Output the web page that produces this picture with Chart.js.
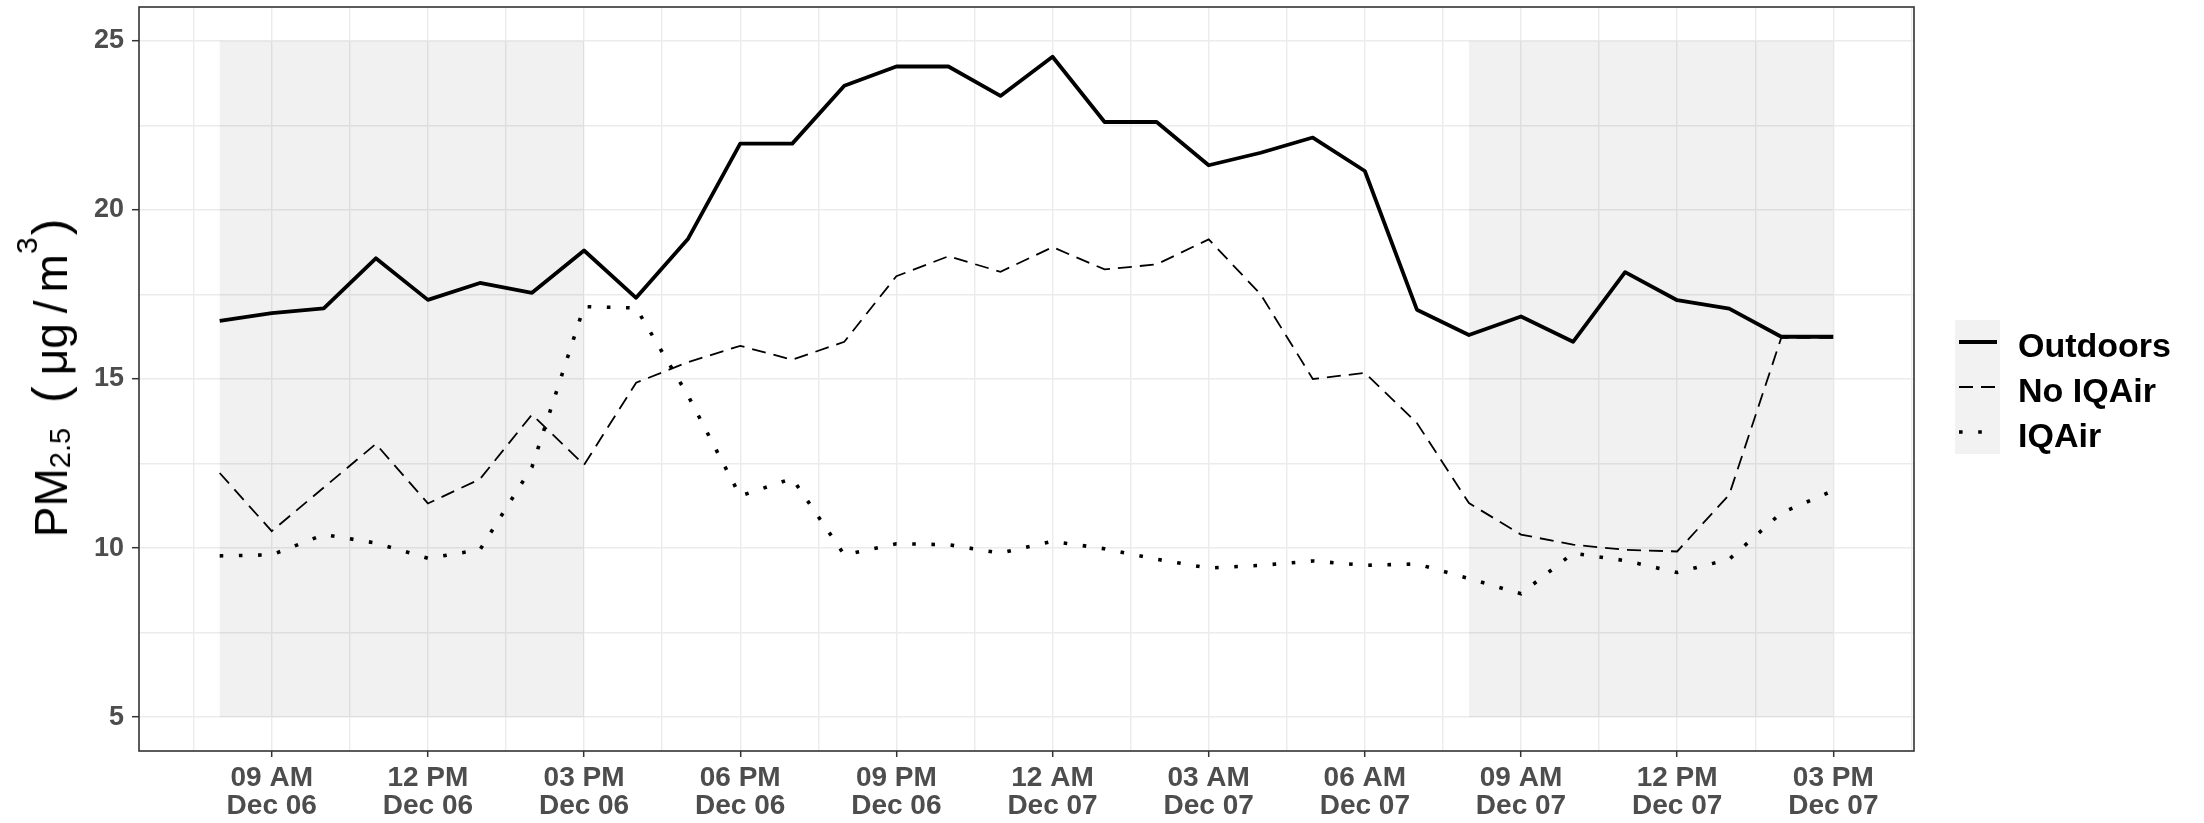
<!DOCTYPE html>
<html>
<head>
<meta charset="utf-8">
<script src="https://cdn.jsdelivr.net/npm/chart.js"></script>
<style>
body { margin: 0; background: #fff; }
#wrap { position: relative; width: 2204px; height: 823px; }
#ytitle {
    position: absolute; left: 51px; top: 378px;
    transform: translate(-50%, -50%) rotate(-90deg);
    font-family: "Liberation Sans", Arial, sans-serif; font-size: 46px;
    line-height: 46px; white-space: nowrap; color: #000;
}
#ytitle span { line-height: 0; position: relative; }
.sub { font-size: 29px; top: 3px; }
.sup { font-size: 30px; top: -30px; }
.par { font-size: 50px; }
</style>
</head>
<body>
<div id="wrap">
  <canvas id="myChart" width="2204" height="823"></canvas>
  <div id="ytitle">PM<span class="sub">2.5</span><span class="par" style="margin-left:25px">(</span><span style="margin-left:11px">μg</span><span style="margin-left:10px;margin-right:8px">/</span>m<span class="sup">3</span><span class="par" style="margin-left:2px">)</span></div>
</div>
<script>
// hours counted from midnight Dec 06 (8 = 08 AM Dec 06, 39 = 03 PM Dec 07)
var hours = [8, 9, 10, 11, 12, 13, 14, 15, 16, 17, 18, 19, 20, 21, 22, 23,
             24, 25, 26, 27, 28, 29, 30, 31, 32, 33, 34, 35, 36, 37, 38, 39];
var outdoors = [16.72, 16.95, 17.09, 18.57, 17.34, 17.84, 17.55, 18.80, 17.40, 19.15, 21.96, 21.96, 23.67, 24.24, 24.24, 23.37,
                24.53, 22.60, 22.60, 21.32, 21.69, 22.14, 21.15, 17.05, 16.30, 16.85, 16.10, 18.16, 17.33, 17.08, 16.25, 16.25];
var noIqair = [12.22, 10.50, 11.79, 13.08, 11.32, 12.04, 13.95, 12.46, 14.89, 15.50, 15.98, 15.57, 16.10, 18.04, 18.63, 18.17,
               18.90, 18.24, 18.39, 19.13, 17.50, 15.00, 15.18, 13.70, 11.33, 10.40, 10.10, 9.95, 9.90, 11.58, 16.22, 16.22];
var iqair = [9.77, 9.80, 10.40, 10.15, 9.70, 9.95, 12.40, 17.14, 17.10, 14.50, 11.54, 12.06, 9.80, 10.13, 10.10, 9.85,
             10.20, 9.98, 9.67, 9.41, 9.49, 9.62, 9.49, 9.53, 9.10, 8.65, 9.85, 9.63, 9.28, 9.67, 11.04, 11.70];
var seriesNames = ['Outdoors', 'No IQAir', 'IQAir'];

var majorHours = [9, 12, 15, 18, 21, 24, 27, 30, 33, 36, 39];
var xTickLabels = [['09 AM', 'Dec 06'], ['12 PM', 'Dec 06'], ['03 PM', 'Dec 06'], ['06 PM', 'Dec 06'],
                   ['09 PM', 'Dec 06'], ['12 AM', 'Dec 07'], ['03 AM', 'Dec 07'], ['06 AM', 'Dec 07'],
                   ['09 AM', 'Dec 07'], ['12 PM', 'Dec 07'], ['03 PM', 'Dec 07']];
var minorHours = [7.5, 10.5, 13.5, 16.5, 19.5, 22.5, 25.5, 28.5, 31.5, 34.5, 37.5, 40.5];
var yMajor = [5, 10, 15, 20, 25];
var yMinor = [7.5, 12.5, 17.5, 22.5];

// shaded daytime blocks
var shadeStart = [8, 32];
var shadeEnd = [15, 39];
var shadeLow = 5;
var shadeHigh = 25;

Chart.defaults.font.family = '"Liberation Sans", Arial, sans-serif';

function toPoints(vals) {
    return hours.map(function(h, i) { return {x: h, y: vals[i]}; });
}

var shadePlugin = {
    id: 'shade',
    beforeDatasetsDraw: function(chart) {
        var ctx = chart.ctx, xs = chart.scales.x, ys = chart.scales.y;
        ctx.save();
        ctx.fillStyle = 'rgba(0,0,0,0.055)';
        for (var i = 0; i < shadeStart.length; i++) {
            var x0 = xs.getPixelForValue(shadeStart[i]);
            var x1 = xs.getPixelForValue(shadeEnd[i]);
            var y0 = ys.getPixelForValue(shadeHigh);
            var y1 = ys.getPixelForValue(shadeLow);
            ctx.fillRect(x0, y0, x1 - x0, y1 - y0);
        }
        ctx.restore();
    }
};

var frameAndLegend = {
    id: 'frameAndLegend',
    afterDraw: function(chart) {
        var ctx = chart.ctx, a = chart.chartArea;
        ctx.save();
        ctx.strokeStyle = '#333333';
        ctx.lineWidth = 1.6;
        ctx.strokeRect(a.left, a.top, a.right - a.left, a.bottom - a.top);

        // legend
        var keyX = 1955, keyW = 45, keyH = 44, firstY = 342, step = 45;
        var n = chart.data.datasets.length;
        ctx.fillStyle = '#F2F2F2';
        ctx.fillRect(keyX, firstY - keyH / 2, keyW, step * (n - 1) + keyH);
        chart.data.datasets.forEach(function(ds, i) {
            var y = firstY + i * step;
            ctx.beginPath();
            ctx.strokeStyle = ds.borderColor;
            ctx.lineWidth = ds.borderWidth;
            ctx.lineCap = 'butt';
            ctx.setLineDash(ds.borderDash || []);
            ctx.moveTo(keyX + 4, y);
            ctx.lineTo(keyX + 42, y);
            ctx.stroke();
            ctx.setLineDash([]);
            ctx.fillStyle = '#000';
            ctx.font = 'bold 34px "Liberation Sans", Arial, sans-serif';
            ctx.textBaseline = 'alphabetic';
            ctx.fillText(ds.label, 2018, y + 15);
        });
        ctx.restore();
    }
};

var ctx = document.getElementById('myChart').getContext('2d');
var myChart = new Chart(ctx, {
    type: 'line',
    data: {
        datasets: [{
            label: seriesNames[0],
            data: toPoints(outdoors),
            borderColor: '#000000',
            borderWidth: 3.8,
            borderJoinStyle: 'round',
        }, {
            label: seriesNames[1],
            data: toPoints(noIqair),
            borderColor: '#000000',
            borderWidth: 1.8,
            borderDash: [14, 8],
        }, {
            label: seriesNames[2],
            data: toPoints(iqair),
            borderColor: '#000000',
            borderWidth: 3.6,
            borderDash: [3.6, 15.6],
        }]
    },
    options: {
        responsive: false,
        animation: false,
        devicePixelRatio: 1,
        layout: { padding: { left: 0, right: 290, top: 7, bottom: 0 } },
        elements: { point: { radius: 0 }, line: { tension: 0, fill: false } },
        plugins: {
            legend: { display: false },
            tooltip: { enabled: false }
        },
        scales: {
            x: {
                type: 'linear',
                min: 6.45,
                max: 40.55,
                afterBuildTicks: function(scale) {
                    scale.ticks = majorHours.concat(minorHours).sort(function(a, b) { return a - b; })
                        .map(function(v) { return {value: v}; });
                },
                afterFit: function(scale) {
                    scale.height = 72;
                    scale.paddingLeft = 0;
                    scale.paddingRight = 0;
                },
                border: { display: false },
                grid: {
                    color: '#EBEBEB',
                    lineWidth: 1.4,
                    tickLength: 6,
                    tickWidth: 1.5,
                    tickColor: function(c) {
                        return c.tick && majorHours.indexOf(c.tick.value) >= 0 ? '#333333' : 'rgba(0,0,0,0)';
                    }
                },
                ticks: {
                    autoSkip: false,
                    maxRotation: 0,
                    padding: 7,
                    color: '#4D4D4D',
                    font: { size: 28, weight: 'bold', lineHeight: 1 },
                    callback: function(value) {
                        var i = majorHours.indexOf(value);
                        return i >= 0 ? xTickLabels[i] : '';
                    }
                }
            },
            y: {
                min: 4,
                max: 26,
                afterBuildTicks: function(scale) {
                    scale.ticks = yMajor.concat(yMinor).sort(function(a, b) { return a - b; })
                        .map(function(v) { return {value: v}; });
                },
                afterFit: function(scale) {
                    scale.width = 139;
                    scale.paddingTop = 0;
                    scale.paddingBottom = 0;
                },
                border: { display: false },
                grid: {
                    color: '#EBEBEB',
                    lineWidth: 1.4,
                    tickLength: 7,
                    tickWidth: 1.5,
                    tickColor: function(c) {
                        return c.tick && yMajor.indexOf(c.tick.value) >= 0 ? '#333333' : 'rgba(0,0,0,0)';
                    }
                },
                ticks: {
                    autoSkip: false,
                    padding: 8,
                    color: '#4D4D4D',
                    font: { size: 27, weight: 'bold' },
                    callback: function(value) {
                        return yMajor.indexOf(value) >= 0 ? String(value) : '';
                    }
                }
            }
        }
    },
    plugins: [shadePlugin, frameAndLegend]
});
</script>
</body>
</html>
